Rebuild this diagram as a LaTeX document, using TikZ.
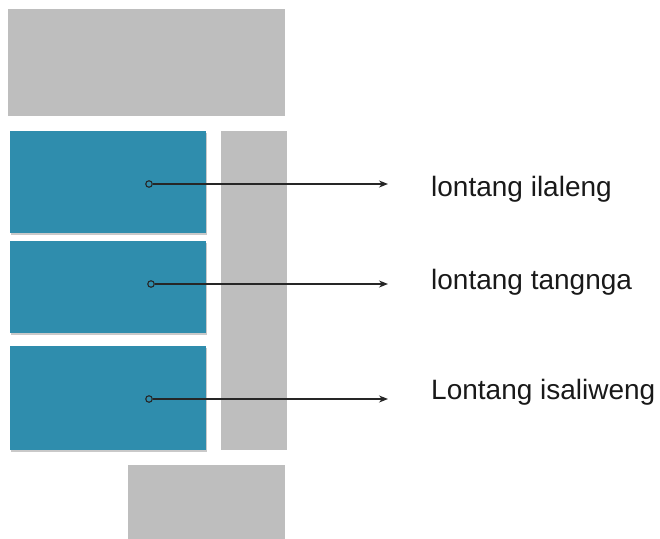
\documentclass[tikz,border=0pt]{standalone}
\usepackage{fontspec}
\setmainfont{Liberation Sans}
\usetikzlibrary{shadows,arrows.meta}
\definecolor{graybox}{HTML}{BEBEBE}
\definecolor{bluebox}{HTML}{2F8DAD}
\begin{document}
\begin{tikzpicture}[x=1pt,y=-1pt,
  gbox/.style={draw=none,fill=graybox,inner sep=0pt,anchor=north west},
  bbox/.style={draw=none,fill=bluebox,inner sep=0pt,anchor=north west,
    drop shadow={shadow xshift=0.5pt,shadow yshift=-2pt,opacity=0.3,fill=black!70}},
  dot/.style={circle,draw=black!85,line width=1.1pt,inner sep=0pt,minimum size=6.5pt},
  arr/.style={-{Stealth[length=9pt,width=7pt]},line width=1.3pt,black!85},
  lbl/.style={font=\fontsize{28}{33}\selectfont,anchor=base west,inner sep=0pt,text=black!90}]
\useasboundingbox (0,0) rectangle (660,538);
\node[gbox,minimum width=277pt,minimum height=107pt] (top) at (8,9) {};
\node[gbox,minimum width=66pt,minimum height=319pt] (side) at (221,131) {};
\node[gbox,minimum width=157pt,minimum height=75pt] (bottom) at (128,465) {};
\node[bbox,minimum width=196pt,minimum height=102pt] (b1) at (10,131) {};
\node[bbox,minimum width=196pt,minimum height=92pt] (b2) at (10,241) {};
\node[bbox,minimum width=196pt,minimum height=104pt] (b3) at (10,346) {};
\node[dot] (d1) at (149,184) {};
\node[dot] (d2) at (151,284) {};
\node[dot] (d3) at (149,399) {};
\coordinate (e1) at (388,184);
\coordinate (e2) at (388,284);
\coordinate (e3) at (388,399);
\draw[arr] (d1) -- (e1);
\draw[arr] (d2) -- (e2);
\draw[arr] (d3) -- (e3);
\node[lbl] (t1) at (431,196) {lontang ilaleng};
\node[lbl] (t2) at (431,289) {lontang tangnga};
\node[lbl] (t3) at (431,399) {Lontang isaliweng};
\end{tikzpicture}
\end{document}
